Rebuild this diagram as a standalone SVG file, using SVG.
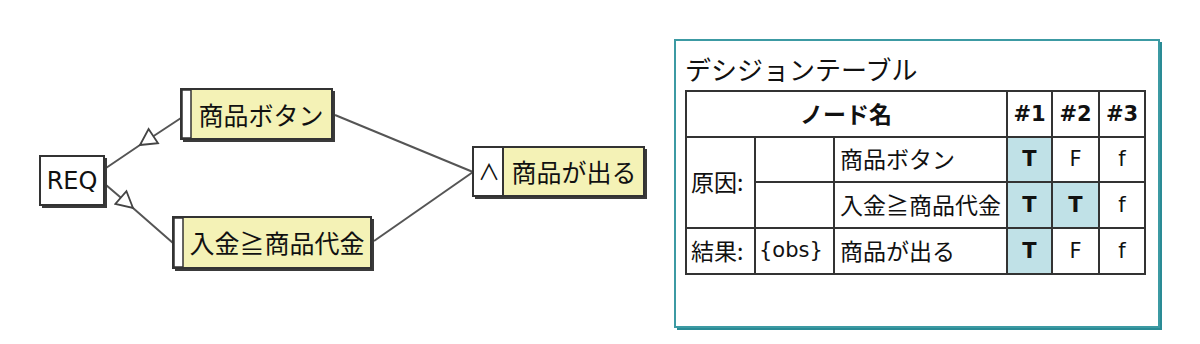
<svg xmlns="http://www.w3.org/2000/svg" width="1200" height="344" viewBox="0 0 1200 344">
<defs>
<style>
.shadow{fill:#3a3a3a}
.box{stroke:#333;stroke-width:2}
.white{fill:#fff}
.yellow{fill:#f4f2b6}
.strip{fill:#fff;stroke:#333;stroke-width:1.5}
.lbl{font-family:"Noto Sans CJK JP","Noto Sans",sans-serif;font-size:25px;fill:#111;dominant-baseline:central}
.req{font-family:"DejaVu Sans","Noto Sans",sans-serif;font-size:24px;fill:#111;dominant-baseline:central}
.conn{stroke:#555;stroke-width:2;fill:none}
.grid{stroke:#333;stroke-width:2;fill:none}
.hl{fill:#c0e1e7}
.t{font-family:"Noto Sans CJK JP","Noto Sans",sans-serif;font-size:23px;fill:#111;dominant-baseline:central}
.lat{font-family:"DejaVu Sans","Noto Sans",sans-serif;font-size:21px}
.b{font-weight:bold}
.m{text-anchor:middle}
</style>
<marker id="tri" viewBox="0 0 20 20" markerWidth="20" markerHeight="20" refX="18" refY="10" orient="auto" markerUnits="userSpaceOnUse">
<polygon points="18,10 2,1.5 2,18.5" fill="#fff" stroke="#444" stroke-width="1.8"/>
</marker>
</defs>
<rect width="1200" height="344" fill="#fff"/>

<g id="connectors">
<path class="conn" d="M181,118 L140,145 L106,168" marker-mid="url(#tri)"/>
<path class="conn" d="M106,185 L133,208 L173,243" marker-mid="url(#tri)"/>
<path class="conn" d="M335,115 L473,172"/>
<path class="conn" d="M374,241 L473,172"/>
</g>

<g id="node-req">
<rect class="shadow" x="42" y="158" width="65" height="50"/>
<rect class="box white" x="40" y="156" width="64" height="49"/>
<text class="req m" x="72" y="181">REQ</text>
</g>

<g id="node-button">
<rect class="shadow" x="183" y="91" width="152" height="51"/>
<rect class="box yellow" x="181" y="89" width="151" height="50"/>
<rect class="strip" x="182" y="90" width="9" height="48"/>
<text class="lbl m" x="261" y="114">商品ボタン</text>
</g>

<g id="node-payment">
<rect class="shadow" x="175" y="219" width="199" height="52"/>
<rect class="box yellow" x="173" y="217" width="198" height="51"/>
<rect class="strip" x="174" y="218" width="9" height="49"/>
<text class="lbl m" x="277" y="242">入金≧商品代金</text>
</g>

<g id="node-result">
<rect class="shadow" x="475" y="149" width="172" height="50"/>
<rect class="box yellow" x="473" y="147" width="171" height="49"/>
<rect class="box white" x="473" y="147" width="30" height="49"/>
<text class="lbl m" x="489" y="170" style="font-size:22px">∧</text>
<text class="lbl m" x="574" y="171">商品が出る</text>
</g>

<g id="decision-table">
<rect x="677" y="42" width="485" height="288" fill="#2a8b95"/>
<rect x="675" y="40" width="484" height="287" fill="#fff" stroke="#3c9aa3" stroke-width="2"/>
<text class="t" x="685" y="68" style="font-size:26px">デシジョンテーブル</text>
<rect class="hl" x="1007" y="137" width="45" height="137"/>
<rect class="hl" x="1052" y="182" width="47" height="46"/>
<rect class="grid" x="686" y="91" width="459" height="183"/>
<line class="grid" x1="686" y1="137" x2="1145" y2="137"/>
<line class="grid" x1="755" y1="182" x2="1145" y2="182"/>
<line class="grid" x1="686" y1="228" x2="1145" y2="228"/>
<line class="grid" x1="755" y1="137" x2="755" y2="274"/>
<line class="grid" x1="834" y1="137" x2="834" y2="274"/>
<line class="grid" x1="1007" y1="91" x2="1007" y2="274"/>
<line class="grid" x1="1052" y1="91" x2="1052" y2="274"/>
<line class="grid" x1="1099" y1="91" x2="1099" y2="274"/>
<text class="t b m" x="846" y="113">ノード名</text>
<text class="t lat b m" x="1029.5" y="114">#1</text>
<text class="t lat b m" x="1075.5" y="114">#2</text>
<text class="t lat b m" x="1122" y="114">#3</text>
<text class="t" x="691" y="181">原因:</text>
<text class="t" x="840" y="158">商品ボタン</text>
<text class="t lat b m" x="1029.5" y="159">T</text>
<text class="t lat m" x="1075.5" y="159">F</text>
<text class="t lat m" x="1122" y="159">f</text>
<text class="t" x="840" y="204">入金≧商品代金</text>
<text class="t lat b m" x="1029.5" y="205">T</text>
<text class="t lat b m" x="1075.5" y="205">T</text>
<text class="t lat m" x="1122" y="205">f</text>
<text class="t" x="691" y="250">結果:</text>
<text class="t lat" x="759" y="250">{obs}</text>
<text class="t" x="840" y="250">商品が出る</text>
<text class="t lat b m" x="1029.5" y="251">T</text>
<text class="t lat m" x="1075.5" y="251">F</text>
<text class="t lat m" x="1122" y="251">f</text>
</g>
</svg>
